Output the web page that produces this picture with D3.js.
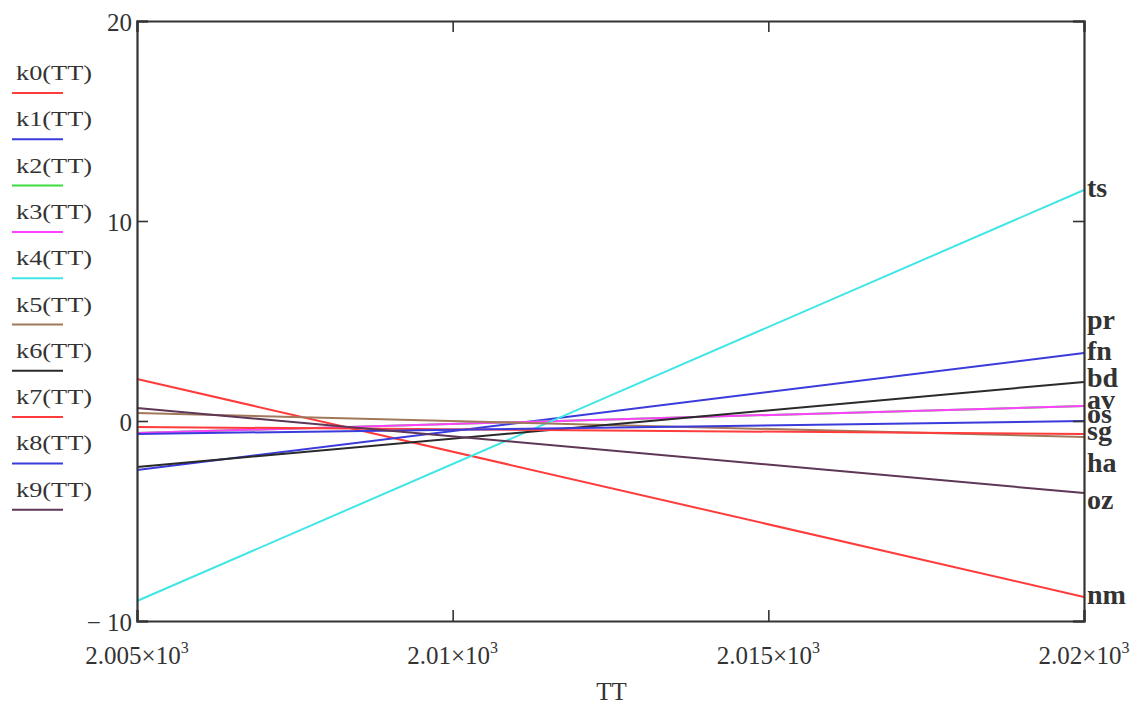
<!DOCTYPE html>
<html>
<head>
<meta charset="utf-8">
<script src="https://cdn.jsdelivr.net/npm/d3@7/dist/d3.min.js"></script>
<style>
  html, body { margin: 0; padding: 0; background: #fff; }
  svg { display: block; }
  text { font-family: "Liberation Serif", "Times New Roman", serif; fill: #333; }
</style>
</head>
<body>
<svg id="chart" width="1140" height="704"></svg>
<script>
// TT range over which the ten functions are evaluated
const ttRange = [2005, 2020];

// k0(TT) ... k9(TT): value at TT = 2005 and TT = 2020 (linear functions)
const k0 = [2.1, -8.8];
const k1 = [-2.45, 3.4];
const k2 = [-0.6, 0.75];
const k3 = [-0.6, 0.75];
const k4 = [-9.0, 11.55];
const k5 = [0.4, -0.8];
const k6 = [-2.3, 1.95];
const k7 = [-0.3, -0.65];
const k8 = [-0.65, 0.0];
const k9 = [0.65, -3.6];

const seriesNames = ["k0(TT)", "k1(TT)", "k2(TT)", "k3(TT)", "k4(TT)",
                     "k5(TT)", "k6(TT)", "k7(TT)", "k8(TT)", "k9(TT)"];
const seriesValues = [k0, k1, k2, k3, k4, k5, k6, k7, k8, k9];
const seriesColors = ["#ff3b3b", "#3b3bdc", "#3fdc3f", "#ff40ff", "#40e6e6",
                      "#a0785a", "#2a2a2a", "#ff3b3b", "#3b3bdc", "#5e3656"];

// marker labels on the right-hand side and the values they mark
const markerLabels = ["ts", "pr", "fn", "bd", "av", "os", "sg", "ha", "oz", "nm"];
const markerValues = [11.55, 4.95, 3.4, 2.05, 0.95, 0.25, -0.6, -2.2, -4.05, -8.8];

// axis ticks
const xTicks = [2005, 2010, 2015, 2020];
const yTicks = [20, 10, 0, -10];
const yTickLabels = ["20", "10", "0", "\u2212 10"];
const xTitle = "TT";

const svg = d3.select("#chart");
const plot = { left: 137, right: 1084, top: 21, bottom: 621 };

const x = d3.scaleLinear().domain(ttRange).range([plot.left, plot.right]);
const y = d3.scaleLinear().domain([-10, 20]).range([plot.bottom, plot.top]);

const axisColor = "#333";
const tickLen = 11;

// series lines
const line = d3.line().x(d => x(d[0])).y(d => y(d[1]));
const g = svg.append("g");
seriesValues.forEach((vals, i) => {
  const pts = vals.map((v, j) => [ttRange[j], v]);
  g.append("path")
    .attr("d", line(pts))
    .attr("fill", "none")
    .attr("stroke", seriesColors[i])
    .attr("stroke-width", 2);
});

// axes: left, bottom, and mirrored right/top with inward ticks
const leftAxis = d3.axisLeft(y).tickValues(yTicks).tickSize(-tickLen).tickPadding(0)
  .tickFormat((d, i) => yTickLabels[i]);
const rightAxis = d3.axisRight(y).tickValues(yTicks).tickSize(-tickLen).tickFormat("");
const bottomAxis = d3.axisBottom(x).tickValues(xTicks).tickSize(-tickLen).tickFormat("");
const topAxis = d3.axisTop(x).tickValues(xTicks).tickSize(-tickLen).tickFormat("");

function styleAxis(sel) {
  sel.select(".domain").attr("stroke", axisColor).attr("stroke-width", 2.2);
  sel.selectAll(".tick line").attr("stroke", axisColor).attr("stroke-width", 1.6);
}

const gl = svg.append("g").attr("transform", `translate(${plot.left},0)`).call(leftAxis).call(styleAxis);
gl.selectAll(".tick text")
  .attr("x", -5).attr("dy", "0.36em")
  .style("font-size", "25px").style("font-family", '"Liberation Serif", serif').attr("fill", "#333");
svg.append("g").attr("transform", `translate(${plot.right},0)`).call(rightAxis).call(styleAxis);
svg.append("g").attr("transform", `translate(0,${plot.bottom})`).call(bottomAxis).call(styleAxis);
svg.append("g").attr("transform", `translate(0,${plot.top})`).call(topAxis).call(styleAxis);

// x tick labels in scientific form: 2.005×10³
const xl = svg.append("g");
xTicks.forEach(t => {
  const txt = xl.append("text")
    .attr("x", x(t)).attr("y", plot.bottom + 43)
    .attr("text-anchor", "middle")
    .style("font-size", "25px");
  txt.append("tspan").text(`${t / 1000}\u00d710`);
  txt.append("tspan").attr("dy", -11).style("font-size", "16px").text("3");
});

// x axis title
svg.append("text")
  .attr("x", (plot.left + plot.right) / 2 + 1).attr("y", 700)
  .attr("text-anchor", "middle")
  .style("font-size", "25px")
  .text(xTitle);

// legend
const legend = svg.append("g");
seriesNames.forEach((name, i) => {
  const cy = 72 + i * 46.3;
  legend.append("text")
    .attr("x", 16).attr("y", cy + 8)
    .attr("textLength", 76).attr("lengthAdjust", "spacingAndGlyphs")
    .style("font-size", "22px")
    .text(name);
  legend.append("line")
    .attr("x1", 12).attr("x2", 63)
    .attr("y1", cy + 21).attr("y2", cy + 21)
    .attr("stroke", seriesColors[i]).attr("stroke-width", 2);
});

// right-hand marker labels
const markers = svg.append("g");
markerLabels.forEach((lab, i) => {
  markers.append("text")
    .attr("x", plot.right + 3).attr("y", y(markerValues[i]) + 7)
    .style("font-size", "28px").style("font-weight", "bold")
    .attr("fill", "#1a1a1a")
    .text(lab);
});
</script>
</body>
</html>
